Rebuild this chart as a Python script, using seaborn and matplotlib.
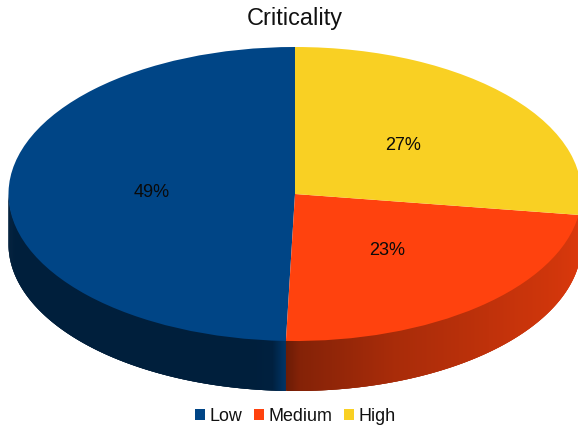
import numpy as np
import matplotlib
matplotlib.use("Agg")
import matplotlib.pyplot as plt
from matplotlib.collections import PolyCollection
from matplotlib.colors import to_rgb
import seaborn as sns

categories = ["Low", "Medium", "High"]
shares = [49, 23, 27]
palette = ["#004586", "#FF420E", "#F9D023"]

sns.set_theme(style="white")
plt.rcParams["font.family"] = ["Liberation Sans", "DejaVu Sans"]

W, H = 578, 425
CX, CY, RX, RY, DEPTH = 295, 194, 286.5, 147, 50

fig = plt.figure(figsize=(W / 100, H / 100), dpi=100, facecolor="white")
ax = fig.add_axes([0, 0, 1, 1])

wedges, _, pct_labels = ax.pie(
    shares, colors=palette, startangle=90, radius=1, center=(0, 0),
    autopct="%.0f%%", pctdistance=0.5,
    wedgeprops={"linewidth": 0, "zorder": 3},
    textprops={"fontsize": 13, "color": "#0a0a0a", "zorder": 4},
)
# The disc is flattened into an ellipse by letting each axis scale on its own.
ax.set_aspect("auto")
ax.set_xlim(-CX / RX, (W - CX) / RX)
ax.set_ylim((CY - H) / RY, CY / RY)

# Side wall: shading per slice, as (angle in degrees, brightness factor).
shading = {
    "Low": ([180, 262, 265.5, 268.2], [0.45, 0.45, 0.47, 0.78]),
    "Medium": ([268.2, 271, 290, 320, 352], [0.42, 0.52, 0.66, 0.78, 0.86]),
    "High": ([352, 360], [0.86, 0.9]),
}
depth = DEPTH / RY
for name, colour, wedge in zip(categories, palette, wedges):
    start = max(wedge.theta1, 180)
    end = min(wedge.theta2, 360)
    if end <= start:
        continue
    edges = np.linspace(start, end, int((end - start) * 4) + 2)
    x, y = np.cos(np.radians(edges)), np.sin(np.radians(edges))
    # Each strip runs under the next one so no seams show between them.
    strips = []
    for i in range(len(edges) - 1):
        j = min(i + 3, len(edges) - 1)
        arc = np.arange(i, j + 1)
        strips.append(
            list(zip(x[arc], y[arc] + 0.01)) + list(zip(x[arc][::-1], y[arc][::-1] - depth))
        )
    mids = (edges[:-1] + edges[1:]) / 2
    factors = np.interp(mids, *shading[name])
    rgb = np.array(to_rgb(colour))
    tones = [tuple(rgb * f) for f in factors]
    ax.add_collection(PolyCollection(strips, facecolors=tones, edgecolors="none",
                                     linewidths=0, zorder=2))

fig.text(CX / W, 1 - 18 / H, "Criticality", ha="center", va="center",
         fontsize=16.9, color="#111111")

ax.legend(
    wedges, categories, loc="center", bbox_to_anchor=(295.5 / W, 1 - 416.5 / H),
    bbox_transform=fig.transFigure, ncol=3, frameon=False, fontsize=12.9,
    handlelength=0.56, handleheight=0.56, handletextpad=0.25,
    columnspacing=0.65, borderpad=0, labelcolor="#111111",
)

fig.savefig("out.png", dpi=100, facecolor="white")
